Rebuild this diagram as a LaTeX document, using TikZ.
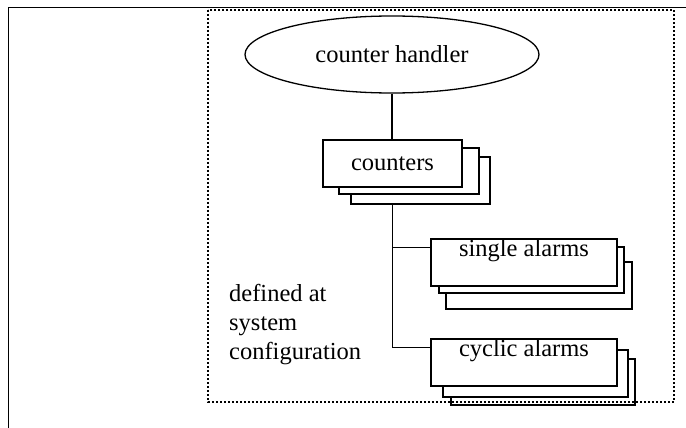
\documentclass[tikz,border=0pt]{standalone}
\usepackage{fontspec}
\setmainfont{Liberation Serif}
\usetikzlibrary{shapes.geometric}
\begin{document}
\begin{tikzpicture}[x=1pt,y=-1pt,
  every node/.style={font=\fontsize{24.5}{29}\selectfont},
  ln/.style={line width=1.3pt},
  stack/.style={draw,ln,fill=white,inner sep=0pt,minimum width=#1},
  dotbox/.style={line width=2pt,dash pattern=on 1.6pt off 2.4pt}]
\useasboundingbox (0,0) rectangle (686,428);
\fill[white] (0,0) rectangle (686,428);
% outer frame
\draw[line width=1pt] (8.5,428) -- (8.5,8) -- (686,8);
% ellipse
\node (eh) [ellipse,draw,ln,minimum width=294pt,minimum height=77pt,inner sep=0pt] at (392,54.5) {counter handler};
% counters stack
\node (c3) [stack=139pt,minimum height=47pt] at (420.5,180.5) {};
\node (c2) [stack=140pt,minimum height=46pt] at (409,171) {};
\node (c1) [stack=139pt,minimum height=47pt] at (392.5,163.5) {counters};
% single alarms stack
\node (s3) [stack=186pt,minimum height=47pt] at (539,285.5) {};
\node (s2) [stack=185pt,minimum height=46pt] at (531.5,270) {};
\node (s1) [stack=186pt,minimum height=47pt,label={[anchor=north,inner sep=1pt]north:single alarms}] at (524,262.5) {};
% cyclic alarms stack
\node (y3) [stack=184pt,minimum height=46pt] at (543,382) {};
\node (y2) [stack=185pt,minimum height=47pt] at (535.5,373.5) {};
\node (y1) [stack=186pt,minimum height=47pt,label={[anchor=north,inner sep=1pt]north:cyclic alarms}] at (524,362.5) {};
% connectors
\draw[ln] (eh.south) -- (eh.south |- c1.north);
\coordinate (sj) at ([yshift=-9pt]s1.north west);
\coordinate (yj) at ([yshift=-9pt]y1.north west);
\draw[ln] (c1.south |- c3.south) -- (c1.south |- yj) -- (yj);
\draw[ln] (c1.south |- sj) -- (sj);
% text
\node (def) [anchor=north west,align=left,inner sep=0pt] at (229,284) {defined at\\system\\configuration};
% dotted region
\draw[dotbox] (208,10) rectangle (674,402);
\end{tikzpicture}
\end{document}
